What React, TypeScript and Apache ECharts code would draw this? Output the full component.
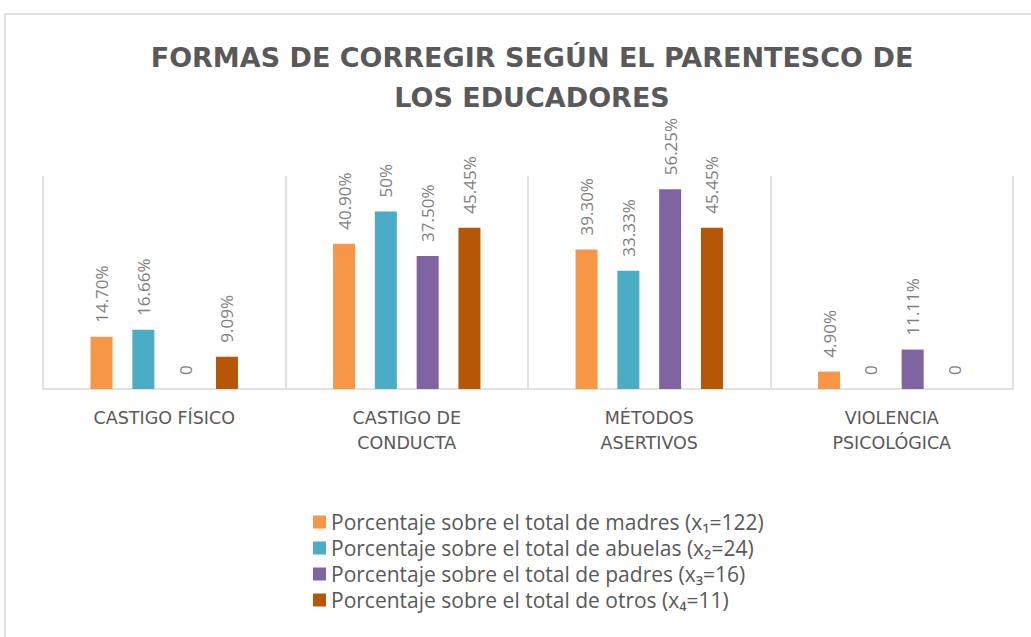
import React, { useEffect, useRef } from "react";
import * as echarts from "echarts";

const categories = ["CASTIGO FÍSICO", "CASTIGO DE\nCONDUCTA", "MÉTODOS\nASERTIVOS", "VIOLENCIA\nPSICOLÓGICA"];
const seriesNames = [
  "Porcentaje sobre el total de madres (x₁=122)",
  "Porcentaje sobre el total de abuelas (x₂=24)",
  "Porcentaje sobre el total de padres (x₃=16)",
  "Porcentaje sobre el total de otros (x₄=11)",
];
const madres = [14.7, 40.9, 39.3, 4.9];
const abuelas = [16.66, 50, 33.33, 0];
const padres = [0, 37.5, 56.25, 11.11];
const otros = [9.09, 45.45, 45.45, 0];
const madresLabels = ["14.70%", "40.90%", "39.30%", "4.90%"];
const abuelasLabels = ["16.66%", "50%", "33.33%", "0"];
const padresLabels = ["0", "37.50%", "56.25%", "11.11%"];
const otrosLabels = ["9.09%", "45.45%", "45.45%", "0"];
const colors = ["#F79646", "#4BACC6", "#8064A2", "#B65708"];

const FONT = "'Open Sans', 'Noto Sans', sans-serif";
const WIDE = "'DejaVu Sans', 'Open Sans', sans-serif";

export default function App() {
  const ref = useRef<HTMLDivElement>(null);
  useEffect(() => {
    if (!ref.current) return;
    const chart = echarts.init(ref.current, undefined, { renderer: "svg" });
    const values = [madres, abuelas, padres, otros];
    const labels = [madresLabels, abuelasLabels, padresLabels, otrosLabels];
    chart.setOption({
      animation: false,
      backgroundColor: "#ffffff",
      textStyle: { fontFamily: FONT },
      title: {
        text: "FORMAS DE CORREGIR SEGÚN EL PARENTESCO DE\nLOS EDUCADORES",
        left: 527,
        textAlign: "center",
        top: 32,
        textStyle: {
          fontFamily: WIDE,
          fontSize: 27,
          fontWeight: "bold",
          color: "#595959",
          lineHeight: 40,
        },
      },
      graphic: [
        {
          type: "rect",
          shape: { x: 5, y: 14, width: 1060, height: 660 },
          style: { fill: "none", stroke: "#d9d9d9", lineWidth: 1.5 },
          silent: true,
          z: -1,
        },
      ],
      legend: {
        orient: "vertical",
        left: 308,
        top: 505,
        itemWidth: 13,
        itemHeight: 13,
        itemGap: 2,
        icon: "rect",
        textStyle: { fontFamily: FONT, fontSize: 21, lineHeight: 24, color: "#595959" },
        data: seriesNames,
      },
      grid: { left: 43, right: 18, top: 176, bottom: 248, containLabel: false },
      xAxis: {
        type: "category",
        data: categories,
        axisLine: { lineStyle: { color: "#d9d9d9", width: 1.5 } },
        axisTick: { show: false },
        splitLine: { show: true, lineStyle: { color: "#d9d9d9", width: 1.5 } },
        axisLabel: {
          interval: 0,
          margin: 16,
          fontFamily: WIDE,
          fontSize: 17.5,
          lineHeight: 25,
          color: "#595959",
        },
      },
      yAxis: {
        type: "value",
        min: 0,
        max: 60,
        show: false,
        splitLine: { show: false },
      },
      series: values.map((v, i) => ({
        name: seriesNames[i],
        type: "bar",
        data: v,
        barWidth: 22,
        barGap: "90%",
        itemStyle: { color: colors[i] },
        label: {
          show: true,
          position: "top",
          rotate: 90,
          align: "left",
          verticalAlign: "middle",
          distance: 14,
          fontFamily: FONT,
          fontSize: 17,
          color: "#7f7f7f",
          formatter: (p: any) => labels[i][p.dataIndex],
        },
      })),
    });
    return () => chart.dispose();
  }, []);
  return (
    <div
      ref={ref}
      style={{ position: "fixed", left: 0, top: 0, width: 1031, height: 637 }}
    />
  );
}
